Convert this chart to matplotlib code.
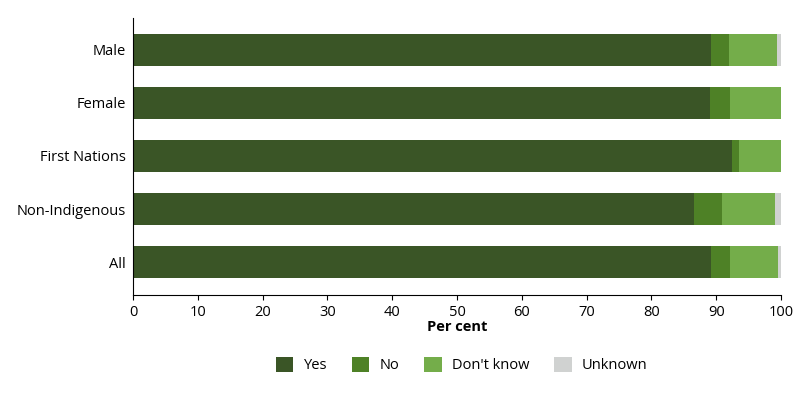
import matplotlib.pyplot as plt
import numpy as np

plt.rcParams["font.family"] = ["Open Sans", "DejaVu Sans"]

categories = ["Male", "Female", "First Nations", "Non-Indigenous", "All"]
yes = [89.2, 89.0, 92.4, 86.6, 89.2]
no = [2.8, 3.1, 1.1, 4.3, 2.9]
dont_know = [7.4, 7.9, 6.5, 8.2, 7.4]
unknown = [0.6, 0.0, 0.0, 0.9, 0.5]

series = [("Yes", yes, "#3a5526"), ("No", no, "#4e8126"),
          ("Don't know", dont_know, "#74ad4a"), ("Unknown", unknown, "#d0d2d1")]

fig = plt.figure(figsize=(8, 4), dpi=100)
ax = fig.add_axes([133 / 800, 105 / 400, 648 / 800, 277 / 400])

ypos = np.arange(len(categories))[::-1]
left = np.zeros(len(categories))
for name, vals, col in series:
    ax.barh(ypos, vals, left=left, height=0.6, color=col, label=name)
    left += np.array(vals)

ax.set_yticks(ypos)
ax.set_yticklabels(categories, fontsize=10.5)
ax.tick_params(axis="y", length=0, pad=5)
ax.set_xlim(0, 100)
ax.set_ylim(-0.62, 4.6)
ax.set_xticks(range(0, 101, 10))
ax.tick_params(axis="x", labelsize=10.5, length=3.5)
ax.set_xlabel("Per cent", fontweight="bold", fontsize=10.5, labelpad=0)
for s in ["top", "right"]:
    ax.spines[s].set_visible(False)

fig.legend(loc="center", bbox_to_anchor=(0.577, 0.088), ncol=4, frameon=False,
           fontsize=10.5, handlelength=1.2, handleheight=1.2, handletextpad=0.7,
           columnspacing=1.7)

fig.savefig("out.png", dpi=100)
